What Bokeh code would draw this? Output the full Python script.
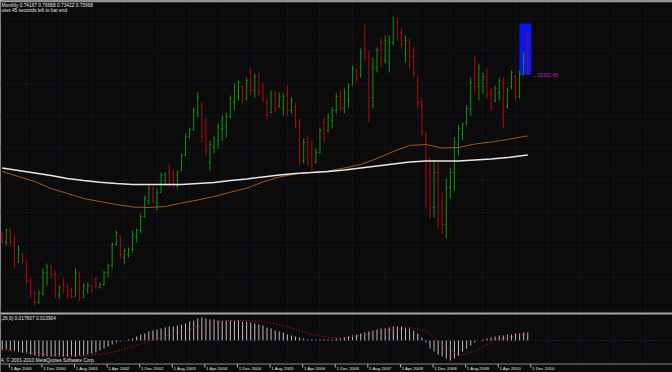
from bokeh.plotting import figure
from bokeh.models import Range1d, FixedTicker, Grid, Span, ColumnDataSource
from bokeh.embed import file_html
from bokeh.resources import INLINE
from bokeh.core.properties import value

# ---------------- data (monthly bars, Mar 2000 .. Dec 2010) ----------------
open_ = [79, 70, 82, 70, 50, 58, 52, 32, 20, 10,
         19, 40, 46, 38, 18, 28, 22, 22, 16, 38,
         15, 22, 27, 33, 25, 28, 40, 47, 68, 77,
         55, 58, 63, 76, 82, 96, 112, 124, 110, 120,
         132, 140, 138, 127, 142, 157, 176, 183, 200, 208,
         188, 150, 165, 172, 184, 186, 196, 210, 222, 226,
         214, 240, 222, 236, 226, 210, 200, 218, 206, 204,
         218, 202, 206, 188, 152, 170, 160, 150, 160, 190,
         182, 192, 202, 216, 204, 212, 228, 242, 238, 280,
         256, 215, 245, 270, 252, 250, 270, 290, 280, 258,
         270, 256, 232, 210, 178, 140, 105, 140, 110, 88,
         125, 140, 168, 178, 190, 204, 240, 226, 226, 236,
         220, 212, 220, 230, 206, 226, 236, 216, 238, 265]
high = [80, 84, 84, 77, 67, 60, 52, 34, 22, 22,
        44, 49, 48, 42, 27, 34, 29, 25, 44, 41,
        29, 30, 27, 35, 30, 42, 49, 70, 82, 77,
        64, 65, 82, 84, 99, 117, 127, 126, 124, 140,
        140, 149, 143, 142, 159, 179, 185, 205, 220, 210,
        194, 172, 177, 189, 197, 200, 217, 229, 232, 227,
        235, 245, 239, 240, 230, 214, 222, 222, 220, 219,
        227, 215, 209, 194, 174, 177, 172, 164, 185, 195,
        199, 205, 219, 222, 224, 229, 247, 244, 264, 289,
        262, 255, 265, 274, 277, 277, 296, 295, 284, 277,
        274, 265, 237, 215, 180, 155, 152, 150, 120, 134,
        145, 175, 187, 190, 207, 235, 257, 249, 240, 244,
        225, 227, 235, 235, 225, 242, 237, 242, 260, 280]
low = [69, 67, 67, 45, 50, 49, 29, 15, 7, 9,
       17, 27, 35, 14, 14, 19, 14, 14, 16, 11,
       15, 19, 20, 24, 24, 27, 35, 44, 67, 54,
       48, 55, 60, 70, 79, 95, 108, 109, 102, 120,
       127, 125, 124, 124, 142, 157, 174, 182, 195, 170,
       157, 142, 159, 164, 172, 175, 194, 202, 212, 209,
       212, 217, 215, 217, 210, 194, 199, 200, 205, 197,
       197, 199, 185, 147, 149, 147, 142, 149, 159, 170,
       180, 184, 199, 202, 199, 205, 227, 230, 235, 252,
       190, 204, 240, 245, 249, 240, 267, 272, 264, 250,
       244, 235, 204, 177, 104, 94, 95, 84, 79, 74,
       114, 122, 157, 172, 187, 197, 220, 212, 219, 214,
       202, 210, 212, 185, 204, 223, 212, 214, 237, 238]
close = [70, 82, 70, 50, 63, 52, 32, 20, 10, 19,
         40, 46, 38, 18, 25, 22, 17, 16, 40, 15,
         27, 27, 22, 26, 28, 40, 47, 68, 80, 58,
         62, 63, 78, 82, 96, 114, 124, 112, 120, 137,
         138, 127, 128, 140, 157, 176, 183, 202, 215, 176,
         162, 168, 174, 186, 194, 196, 214, 226, 230, 212,
         232, 222, 236, 220, 214, 198, 218, 204, 216, 216,
         202, 212, 190, 152, 170, 150, 147, 160, 182, 175,
         195, 202, 216, 205, 220, 226, 244, 234, 260, 256,
         215, 245, 262, 252, 272, 270, 290, 275, 268, 272,
         256, 240, 210, 180, 120, 105, 140, 100, 88, 125,
         140, 170, 184, 188, 204, 230, 226, 245, 236, 218,
         205, 224, 232, 200, 222, 240, 216, 238, 255, 238]

# moving averages, read every 4th bar
ma_bars = [0, 4, 8, 12, 16, 20, 24, 28, 32, 36, 40, 44, 48, 52, 56, 60, 64,
           68, 72, 76, 80, 84, 88, 92, 96, 100, 104, 108, 112, 116, 120, 124, 128, 129]
ma_slow = [144.5, 142, 139.5, 137, 134, 132, 130.3, 129, 128, 128, 128, 128, 129, 130,
           132, 133.5, 135.5, 137.5, 139, 140, 141, 142.5, 144.5, 146.5, 148.5, 150.5,
           151.5, 151.5, 151.5, 152.5, 153.5, 155, 157, 157.5]
ma_fast = [141, 136, 131, 124, 119, 114, 111, 108, 105.5, 105, 106, 109.5, 112.5, 116,
           120.3, 124.3, 130.5, 135.5, 138.5, 140, 141.5, 144.5, 148, 154, 161, 167,
           168, 164.5, 165, 168.5, 170.5, 173, 176, 176.5]

# MACD (12,26,9): main per bar, signal every 4th bar
macd = [-0.0198, -0.0198, -0.0220, -0.0220,
        -0.0242, -0.0264, -0.0286, -0.0308, -0.0330,
        -0.0352, -0.0352, -0.0352, -0.0352, -0.0352, -0.0352, -0.0352, -0.0352, -0.0352, -0.0352,
        -0.0330, -0.0330,
        -0.0308, -0.0286, -0.0264, -0.0220, -0.0176, -0.0132, -0.0088, -0.0044, -0.0022, 0.0,
        0.0022, 0.0044, 0.0088, 0.0132, 0.0154, 0.0198, 0.0220, 0.0242, 0.0264, 0.0286,
        0.0308, 0.0308, 0.0330, 0.0352, 0.0374, 0.0418, 0.0440, 0.0484, 0.0506, 0.0484,
        0.0462, 0.0462, 0.0440, 0.0440, 0.0440, 0.0440, 0.0440, 0.0440, 0.0418, 0.0418,
        0.0396, 0.0374, 0.0352, 0.0330, 0.0286, 0.0264, 0.0220, 0.0198, 0.0176, 0.0132,
        0.0110, 0.0088, 0.0066, 0.0044, 0.0022, 0.0022, 0.0022, 0.0022, 0.0022, 0.0022,
        0.0022, 0.0044, 0.0044, 0.0066, 0.0088, 0.0110, 0.0132, 0.0154, 0.0176, 0.0198,
        0.0220, 0.0242, 0.0264, 0.0264, 0.0286, 0.0308, 0.0308, 0.0308, 0.0286, 0.0264,
        0.0220, 0.0154, 0.0066, -0.0044, -0.0176, -0.0242, -0.0308, -0.0352, -0.0396, -0.0440,
        -0.0396, -0.0330, -0.0242, -0.0176, -0.0110, -0.0044, 0.0, 0.0022, 0.0044, 0.0066,
        0.0088, 0.0110, 0.0110, 0.0132, 0.0132, 0.0154, 0.0154, 0.0176, 0.0176]
signal = [-0.0220, -0.0242, -0.0286, -0.0319, -0.0341, -0.0341, -0.0308, -0.0242, -0.0132,
          -0.0022, 0.0088, 0.0198, 0.0308, 0.0396, 0.0440, 0.0440, 0.0418, 0.0352, 0.0242,
          0.0132, 0.0066, 0.0055, 0.0110, 0.0176, 0.0242, 0.0286, 0.0220, -0.0088, -0.0330,
          -0.0242, -0.0037, 0.0073, 0.0125, 0.0139]

# time-scale labels (bar index of each labelled month)
tick_bars = [1, 9, 17, 25, 33, 41, 49, 57, 65, 73, 81, 89, 97, 105, 113, 121, 129]
tick_labels = ["1 Apr 2000", "1 Dec 2000", "1 Aug 2001", "1 Apr 2002", "1 Dec 2002",
               "1 Aug 2003", "1 Apr 2004", "1 Dec 2004", "1 Aug 2005", "1 Apr 2006",
               "1 Dec 2006", "1 Aug 2007", "1 Apr 2008", "1 Dec 2008", "1 Aug 2009",
               "1 Apr 2010", "1 Dec 2010"]

# price grid levels and the bar-end box of the current bar
grid_levels = [294, 261.6, 229.2, 196.8, 164.4, 132, 99.6, 67.2, 34.8, 2.4]
box_first_bar, box_last_bar = 127, 129
box_low, box_high = 238, 289
last_price_text = "15301.45"
header_1 = "Monthly  0.74167 0.76668 0.73422 0.73968"
header_2 = "utes 45 seconds left to bar end"
macd_label = ",26,9) 0.017607 0.013904"
copyright_text = "4, \u00a9 2001-2010 MetaQuotes Software Corp."

# ---------------- figure ----------------
BG = "#0b0b0b"
FONT = value("Liberation Sans")
n = len(close)
bars = list(range(n))

p = figure(width=672, height=372, output_backend="svg", toolbar_location=None,
           x_axis_type=None, y_axis_type=None, min_border=0,
           x_range=Range1d(-0.417, 164.53), y_range=Range1d(-60, 312))
p.background_fill_color = BG
p.border_fill_color = BG
p.outline_line_color = None
p.extra_y_ranges = {"macd": Range1d(-0.0704, 0.748), "screen": Range1d(372, 0)}
p.extra_x_ranges = {"sx": Range1d(0, 672)}

GRID = "#1c1c56"
vg = Grid(dimension=0, ticker=FixedTicker(ticks=[6.0 + 8 * k for k in range(21)]),
          grid_line_color=GRID, grid_line_dash="1 2")
hg = Grid(dimension=1, ticker=FixedTicker(ticks=grid_levels),
          grid_line_color=GRID, grid_line_dash="1 2")
p.add_layout(vg)
p.add_layout(hg)

# bar-end box
p.quad(left=[box_first_bar - 0.05], right=[box_last_bar + 0.9],
       bottom=[box_low], top=[box_high], fill_color="#0a16f0", line_color=None)

# OHLC bars
colors = ["#109410" if c >= o else "#b00a0a" for o, c in zip(open_, close)]
src = ColumnDataSource(dict(x=bars, xl=[b - 0.3 for b in bars], xr=[b + 0.3 for b in bars],
                            o=open_, h=high, l=low, c=close, col=colors))
p.segment(x0="x", y0="l", x1="x", y1="h", line_color="col", line_width=1, source=src)
p.segment(x0="xl", y0="o", x1="x", y1="o", line_color="col", line_width=1, source=src)
p.segment(x0="x", y0="c", x1="xr", y1="c", line_color="col", line_width=1, source=src)

# moving averages
p.line(ma_bars, ma_fast, line_color="#a5561c", line_width=1)
p.line(ma_bars, ma_slow, line_color="#e8e8e8", line_width=1.5)

# last price label
p.text(x=[n - 1 + 1.1], y=[close[-1]], text=["\u2190" + last_price_text],
       text_color="#c020c0", text_font_size="5px", text_font=FONT,
       text_baseline="middle", text_align="left")

# MACD panel
p.add_layout(Span(location=0, dimension="width", y_range_name="macd",
                  line_color="#26267a", line_dash="1 2", line_width=1))
p.segment(x0=bars, y0=[0] * n, x1=bars, y1=macd, y_range_name="macd",
          line_color="#bcbcbc", line_width=1)
p.line(ma_bars, signal, y_range_name="macd", line_color="#d01818",
       line_width=1, line_dash="1 2")

# cover for time scale strip
p.quad(left=[0], right=[672], bottom=[363.5], top=[372], x_range_name="sx",
       y_range_name="screen", fill_color=BG, line_color=None)

# panel separators
p.add_layout(Span(location=0.8, dimension="width", y_range_name="screen",
                  line_color="#9a9a9a", line_width=2))
p.add_layout(Span(location=313, dimension="width", y_range_name="screen",
                  line_color="#a8a8a8", line_width=2))
p.add_layout(Span(location=363.5, dimension="width", y_range_name="screen",
                  line_color="#8c8c8c", line_width=1))

# texts
p.text(x=[1, 1], y=[5, 10.3], text=[header_1, header_2], x_range_name="sx",
       y_range_name="screen", text_color="#e6e6e6", text_font_size="4.8px",
       text_font=FONT, text_baseline="middle", text_align="left")
p.text(x=[0.5], y=[318.3], text=[macd_label], x_range_name="sx", y_range_name="screen",
       text_color="#e6e6e6", text_font_size="4.8px", text_font=FONT,
       text_baseline="middle", text_align="left")
p.text(x=[0.5], y=[359.6], text=[copyright_text], x_range_name="sx", y_range_name="screen",
       text_color="#e6e6e6", text_font_size="4.8px", text_font=FONT,
       text_baseline="middle", text_align="left")

# time scale
p.segment(x0=[b + 0.75 for b in tick_bars], y0=[363.5] * len(tick_bars),
          x1=[b + 0.75 for b in tick_bars], y1=[367] * len(tick_bars),
          y_range_name="screen", line_color="#bbbbbb", line_width=1)
p.text(x=[b + 1.05 for b in tick_bars], y=[368.2] * len(tick_bars), text=tick_labels,
       y_range_name="screen", text_color="#e6e6e6", text_font_size="4.4px",
       text_font=FONT, text_baseline="middle", text_align="left")

open("out.html", "w").write(file_html(p, INLINE))
